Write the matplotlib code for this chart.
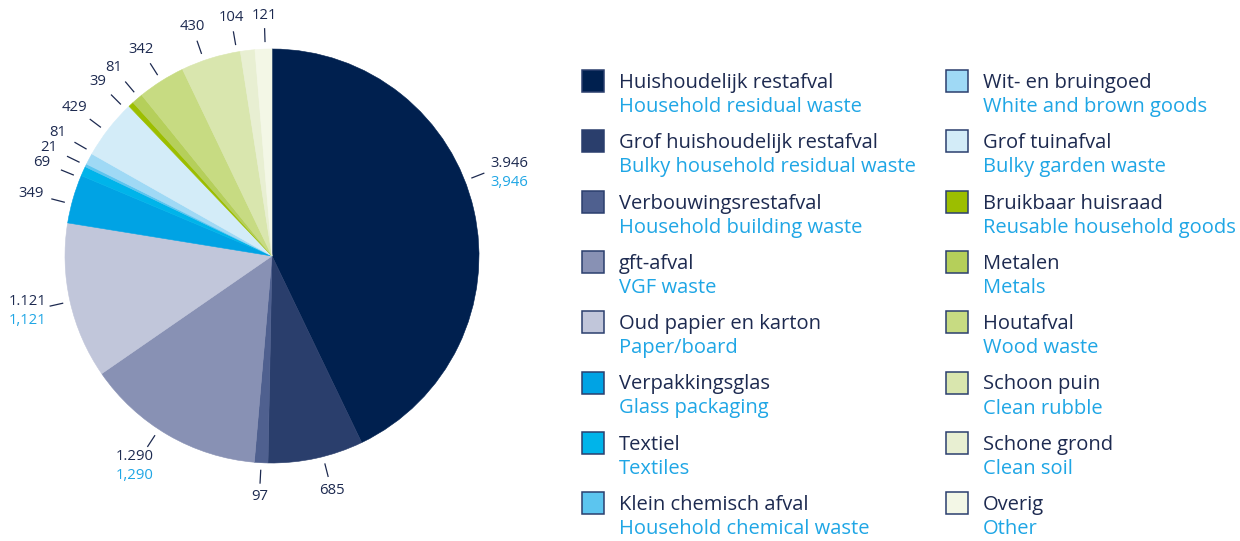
import numpy as np
import matplotlib.pyplot as plt

plt.rcParams['font.family'] = ['Open Sans', 'DejaVu Sans']

# data
nl_labels = ['Huishoudelijk restafval', 'Grof huishoudelijk restafval', 'Verbouwingsrestafval',
             'gft-afval', 'Oud papier en karton', 'Verpakkingsglas', 'Textiel',
             'Klein chemisch afval', 'Wit- en bruingoed', 'Grof tuinafval',
             'Bruikbaar huisraad', 'Metalen', 'Houtafval', 'Schoon puin',
             'Schone grond', 'Overig']
en_labels = ['Household residual waste', 'Bulky household residual waste',
             'Household building waste', 'VGF waste', 'Paper/board', 'Glass packaging',
             'Textiles', 'Household chemical waste', 'White and brown goods',
             'Bulky garden waste', 'Reusable household goods', 'Metals', 'Wood waste',
             'Clean rubble', 'Clean soil', 'Other']
values = [3946, 685, 97, 1290, 1121, 349, 69, 21, 81, 429, 39, 81, 342, 430, 104, 121]
# slices that also show the English-formatted number
show_en = [True, False, False, True, True] + [False] * 11

colors = ['#00204f', '#2a3e6c', '#4f608f', '#8891b4', '#c1c6da', '#00a3e4',
          '#00b4ea', '#5cc5ef', '#9fd9f5', '#d3ecf8', '#9cbe00', '#b5cf5a',
          '#c7db82', '#d9e6ae', '#e8efd2', '#f3f7e6']
# small angular nudges (degrees) for label placement
nudge = [8.5, 2, 0, -3, 0, 1.5, 2, 0, -2, 1, 2, -0.5, 0, 2, 3, -0.5]

navy = '#1d2a50'
blue = '#1fa6e5'
H = 541

fig = plt.figure(figsize=(12.4, 5.41), dpi=100)
ax = fig.add_axes([0, 0, 1, 1])

cx, cy, R = 272, H - 256, 207
wedges, _ = ax.pie(values, colors=colors, startangle=90, counterclock=False,
                   center=(cx, cy), radius=R)
for w, c in zip(wedges, colors):
    w.set_edgecolor(c)
    w.set_linewidth(0.4)

total = sum(values)
cum = np.cumsum([0] + values)
for i, v in enumerate(values):
    mid = 90 - (cum[i] + v / 2) / total * 360 + nudge[i]
    a = np.deg2rad(mid)
    ca, sa = np.cos(a), np.sin(a)
    ex, ey = cx + (R + 21) * ca, cy + (R + 21) * sa
    ax.plot([cx + (R + 7) * ca, ex], [cy + (R + 7) * sa, ey], color=navy, lw=0.9,
            solid_capstyle='butt')
    nl = f'{v:,}'.replace(',', '.')
    if show_en[i]:
        if ca > 0.8:
            tx, ty, ha = ex + 6, ey, 'left'
        else:
            d = R + 44
            tx, ty, ha = cx + d * ca, cy + d * sa, 'center'
        ax.text(tx, ty + 2, nl, color=navy, fontsize=10.7, ha=ha, va='bottom')
        ax.text(tx, ty - 2, f'{v:,}', color=blue, fontsize=10.7, ha=ha, va='top')
    else:
        d = R + 33 + 9 * abs(ca)
        ax.text(cx + d * ca, cy + d * sa, nl, color=navy, fontsize=10.7,
                ha='center', va='center')

# legend
for i, (nl, en, c) in enumerate(zip(nl_labels, en_labels, colors)):
    col, row = divmod(i, 8)
    x0 = 582 + col * 364
    yc = H - (81 + row * 60.3)
    ax.add_patch(plt.Rectangle((x0, yc - 11), 22, 22, facecolor=c,
                               edgecolor='#2b3f6e', lw=1.1))
    ax.text(x0 + 37, yc - 2, nl, color=navy, fontsize=14.5, va='center', ha='left')
    ax.text(x0 + 37, yc - 26, en, color=blue, fontsize=14.5, va='center', ha='left')

ax.set_xlim(0, 1240)
ax.set_ylim(0, H)
ax.set_aspect('equal')
ax.axis('off')

fig.savefig('out.png', dpi=100)
